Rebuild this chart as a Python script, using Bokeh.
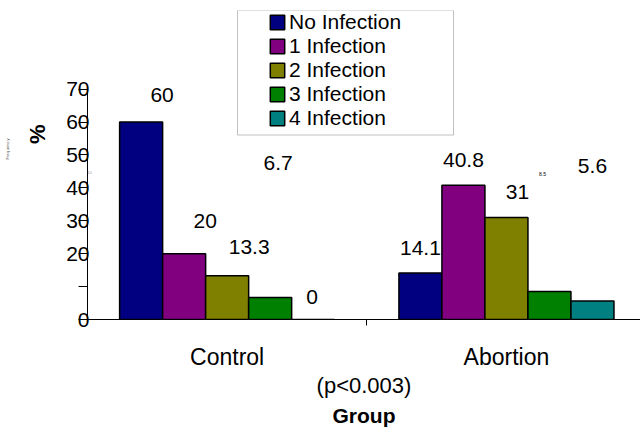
import math
from bokeh.plotting import figure
from bokeh.models import (FixedTicker, Range1d, ColumnDataSource, Label, BoxAnnotation, Legend, LegendItem, Title)
from bokeh.core.properties import value
from bokeh.embed import file_html
from bokeh.resources import INLINE

# ---- data ----
groups = ["Control", "Abortion"]
series = ["No Infection", "1 Infection", "2 Infection", "3 Infection", "4 Infection"]
control = [60, 20, 13.3, 6.7, 0]
abortion = [14.1, 40.8, 31, 8.5, 5.6]
y_ticks = [0, 10, 20, 30, 40, 50, 60, 70]
y_tick_labels = ["0", "", "20", "30", "40", "50", "60", "70"]
p_value_text = "(p<0.003)"
x_title = "Group"
y_title = "%"
y_title_small = "Freq uenc y"

# ---- styles ----
colors = ["#000080", "#800080", "#808000", "#008000", "#008080"]
label_dx = [[21, 21, 22, 8, -1], [0, 0, 11, -7, 0]]          # px
label_dy = [[-27, -33, -29, -134, -23], [-25, -25, -25, -118, -135]]  # px
label_size = [["21px"] * 5, ["21px", "21px", "21px", "5px", "21px"]]
FONT = "Liberation Sans"
bw = 0.154

p = figure(width=640, height=432, output_backend="svg", toolbar_location=None,
           x_range=Range1d(0, 1.98), y_range=Range1d(0, 93.9),
           min_border_left=87, min_border_right=0, min_border_top=10, min_border_bottom=113)
p.outline_line_color = None
p.grid.visible = False
p.background_fill_color = "white"
p.border_fill_color = "white"

values = [control, abortion]
centers = [i + 0.5 for i in range(len(groups))]

items = []
for j, name in enumerate(series):
    xs = [c + (j - 2) * bw for c in centers]
    tops = [values[g][j] for g in range(len(groups))]
    r = p.vbar(x=xs, top=tops, width=bw, fill_color=colors[j], line_color="black", line_width=1.5)
    items.append(LegendItem(label=name, renderers=[r]))

# value labels
lx, ly, lt, ldx, ldy, lsz = [], [], [], [], [], []
for g in range(len(groups)):
    for j in range(len(series)):
        lx.append(centers[g] + (j - 2) * bw)
        ly.append(values[g][j])
        v = values[g][j]
        lt.append(str(int(v)) if float(v).is_integer() else str(v))
        ldx.append(label_dx[g][j])
        ldy.append(label_dy[g][j])
        lsz.append(label_size[g][j])
src = ColumnDataSource(dict(x=lx, y=ly, t=lt, dx=ldx, dy=ldy, sz=lsz))
p.text(x="x", y="y", text="t", x_offset="dx", y_offset="dy", text_font_size="sz",
       text_align="center", text_baseline="middle", text_font=value(FONT),
       text_color="black", source=src)

# y axis
ya = p.yaxis[0]
ya.ticker = FixedTicker(ticks=y_ticks, minor_ticks=[])
ya.major_label_overrides = {t: l for t, l in zip(y_ticks, y_tick_labels)}
ya.bounds = (0, 70)
ya.axis_line_color = "black"
ya.major_tick_line_color = "black"
ya.major_tick_in = 0
ya.major_tick_out = 9
ya.major_label_standoff = -11
ya.major_label_text_font = FONT
ya.major_label_text_font_size = "21px"
ya.major_label_text_color = "black"
ya.minor_tick_line_color = None

# x axis
xa = p.xaxis[0]
xa.ticker = FixedTicker(ticks=centers, minor_ticks=[1.0])
xa.major_label_overrides = {c: g for c, g in zip(centers, groups)}
xa.axis_line_color = "black"
xa.major_tick_line_color = None
xa.major_tick_out = 0
xa.major_tick_in = 0
xa.minor_tick_line_color = "black"
xa.minor_tick_out = 6
xa.minor_tick_in = 0
xa.major_label_standoff = 18
xa.major_label_text_font = FONT
xa.major_label_text_font_size = "23px"
xa.major_label_text_color = "black"
xa.axis_label = p_value_text
xa.axis_label_standoff = 0
xa.axis_label_text_font = FONT
xa.axis_label_text_font_size = "22px"
xa.axis_label_text_font_style = "normal"
xa.axis_label_text_color = "black"

# "Group" title below
p.add_layout(Title(text=x_title, align="center", text_font=FONT, text_font_size="21px",
                   text_font_style="bold", text_color="black", standoff=2), "below")

# y title
p.add_layout(Title(text=y_title, align="right", offset=114, standoff=27, text_font=FONT,
                   text_font_size="22px", text_font_style="bold", text_color="black"), "left")
p.add_layout(Title(text=y_title_small, align="right", offset=128, standoff=0, text_font=FONT,
                   text_font_size="4px", text_font_style="normal", text_color="#444444"), "left")

p.add_layout(Label(x=2, y=147, x_units="screen", y_units="screen", text="10",
                   text_font=FONT, text_font_size="4px", text_align="center",
                   text_baseline="middle", text_color="#999999"))

# legend frame
p.add_layout(BoxAnnotation(left=150, right=366, top=309, bottom=184.5,
                           left_units="screen", right_units="screen", top_units="screen", bottom_units="screen",
                           fill_color=None, fill_alpha=0, line_color="#333333", line_width=1, level="overlay"))

legend = Legend(items=items, location=(181, 189.2), orientation="vertical",
                label_text_font=FONT, label_text_font_size="21px", label_text_color="black",
                label_height=24, glyph_height=18, glyph_width=18, label_standoff=3,
                spacing=0, padding=2, margin=0, border_line_color=None,
                background_fill_alpha=0)
p.add_layout(legend, "center")

open("out.html", "w").write(file_html(p, INLINE))
